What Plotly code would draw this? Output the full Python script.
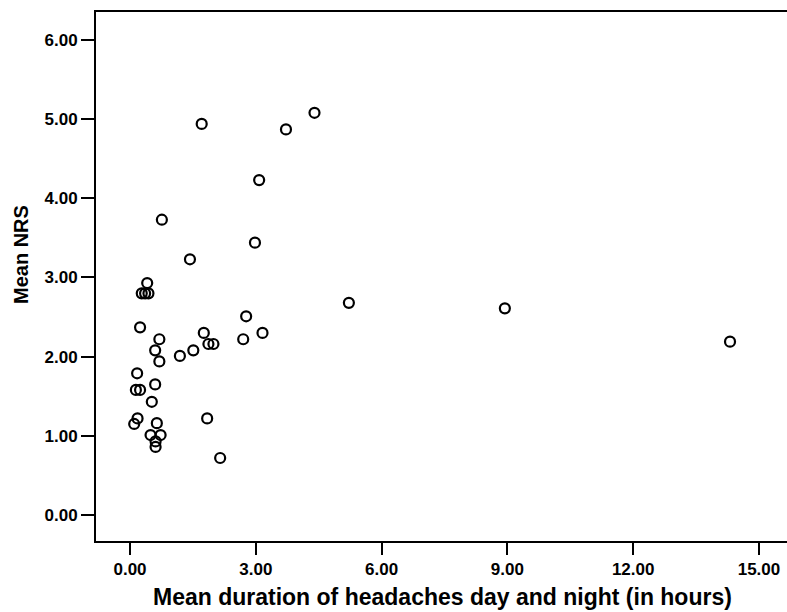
import plotly.graph_objects as go

# Mean duration of headaches (hours) and Mean NRS
duration_hours = [0.41, 0.28, 0.36, 0.44, 0.24, 0.70, 0.60, 0.70, 1.19, 1.51,
                  1.76, 1.87, 1.99, 2.77, 2.70, 3.16, 1.43, 0.17, 0.14, 0.24,
                  0.60, 0.52, 0.18, 0.10, 0.64, 0.49, 0.73, 0.61, 0.61, 1.84,
                  2.15, 0.76, 1.71, 3.08, 3.72, 4.40, 2.98, 5.22, 8.94, 14.31]
mean_nrs = [2.93, 2.80, 2.80, 2.80, 2.37, 2.22, 2.08, 1.94, 2.01, 2.08,
            2.30, 2.16, 2.16, 2.51, 2.22, 2.30, 3.23, 1.79, 1.58, 1.58,
            1.65, 1.43, 1.22, 1.15, 1.16, 1.01, 1.01, 0.93, 0.86, 1.22,
            0.72, 3.73, 4.94, 4.23, 4.87, 5.08, 3.44, 2.68, 2.61, 2.19]

x_ticks = [0, 3, 6, 9, 12, 15]
x_tick_labels = ["0.00", "3.00", "6.00", "9.00", "12.00", "15.00"]
y_ticks = [0, 1, 2, 3, 4, 5, 6]
y_tick_labels = ["0.00", "1.00", "2.00", "3.00", "4.00", "5.00", "6.00"]

x_title = "Mean duration of headaches day and night (in hours)"
y_title = "Mean NRS"

fig = go.Figure()
fig.add_trace(go.Scatter(
    x=duration_hours, y=mean_nrs, mode="markers",
    marker=dict(symbol="circle-open", size=10, color="black",
                line=dict(width=2.2, color="black")),
    showlegend=False, hoverinfo="x+y",
))

font_family = "Liberation Sans, Arial, sans-serif"

fig.update_layout(
    width=787, height=612,
    margin=dict(l=96, r=0, t=12, b=71),
    paper_bgcolor="white", plot_bgcolor="white",
    font=dict(family=font_family, color="black"),
    xaxis=dict(
        range=[-0.811, 15.669], tickvals=x_ticks, ticktext=x_tick_labels,
        showgrid=False, zeroline=False,
        showline=True, linecolor="black", linewidth=2, mirror=True,
        ticks="outside", ticklen=12, tickwidth=2, tickcolor="black",
        tickfont=dict(family=font_family, size=17, color="black", weight="bold"),
        ticklabelstandoff=0,
    ),
    yaxis=dict(
        range=[-0.328, 6.353], tickvals=y_ticks, ticktext=y_tick_labels,
        showgrid=False, zeroline=False,
        showline=True, linecolor="black", linewidth=2,
        ticks="outside", ticklen=13, tickwidth=2, tickcolor="black",
        tickfont=dict(family=font_family, size=17, color="black", weight="bold"),
    ),
    annotations=[
        dict(text="<b>" + x_title + "</b>", xref="paper", yref="paper",
             x=(443 - 96) / 691, y=-(597 - 541) / 529, xanchor="center", yanchor="middle",
             showarrow=False, font=dict(family=font_family, size=23, color="black")),
        dict(text="<b>" + y_title + "</b>", xref="paper", yref="paper",
             x=-(96 - 21) / 691, y=(541 - 255) / 529, xanchor="center", yanchor="middle",
             textangle=-90, showarrow=False,
             font=dict(family=font_family, size=20, color="black")),
    ],
)

fig.write_html("out.html")
